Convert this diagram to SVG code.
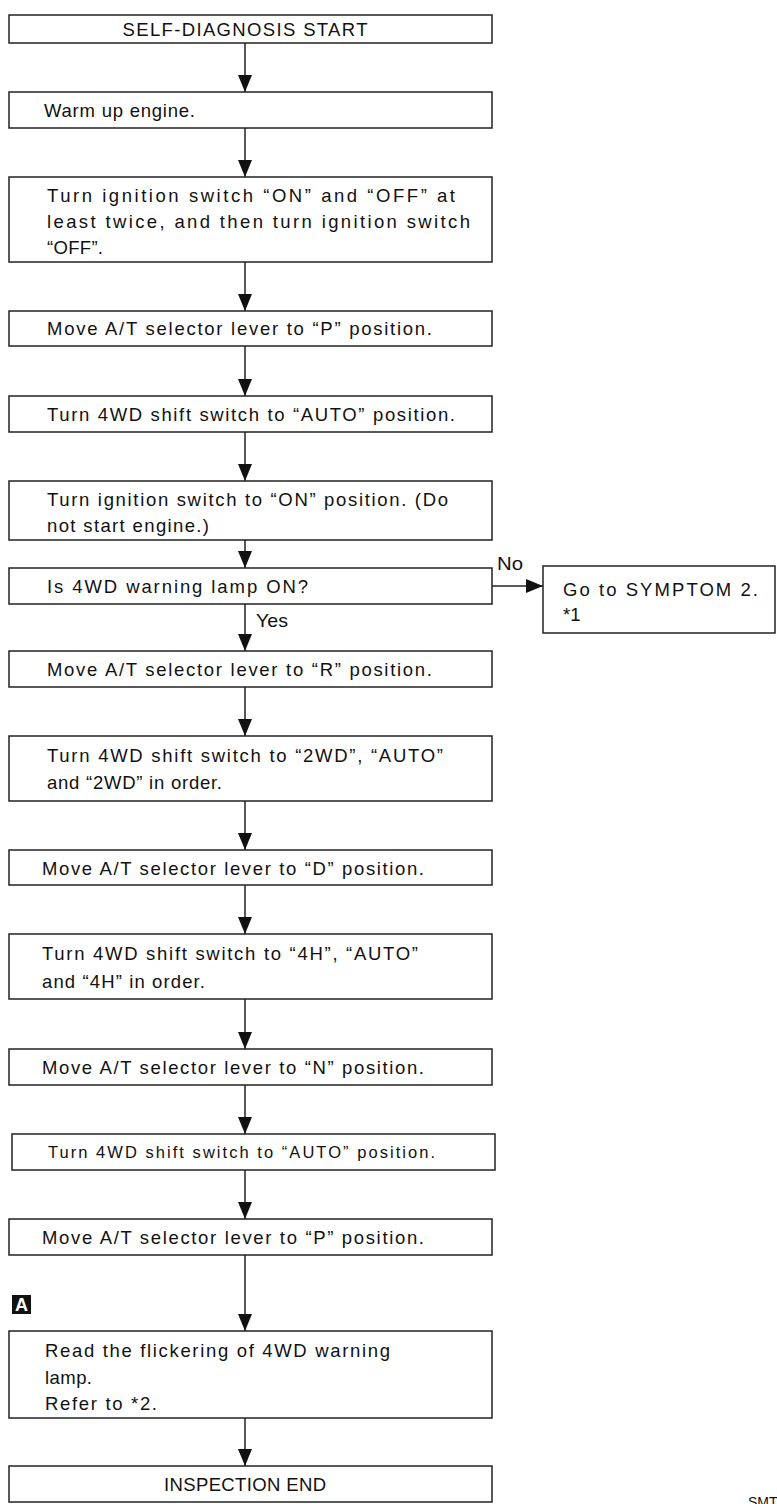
<svg xmlns="http://www.w3.org/2000/svg" width="777" height="1504" viewBox="0 0 777 1504">
<style>
.box{fill:#fff;stroke:#222;stroke-width:1.5}
.t{font-family:"Liberation Sans",Arial,sans-serif;font-size:18.5px;fill:#111}
.s{font-size:16.5px}
.c{stroke:#222;stroke-width:1.5;fill:none}
</style>
<defs>
<marker id="ah" markerUnits="userSpaceOnUse" markerWidth="17" markerHeight="14" refX="17" refY="7" orient="auto" viewBox="0 0 17 14">
<path d="M0,0 L17,7 L0,14 z" fill="#111"/>
</marker>
</defs>
<rect width="777" height="1504" fill="#fff"/>
<g id="connectors">
<line class="c" x1="245" y1="43" x2="245" y2="92" marker-end="url(#ah)"/>
<line class="c" x1="245" y1="128" x2="245" y2="177" marker-end="url(#ah)"/>
<line class="c" x1="245" y1="262" x2="245" y2="311" marker-end="url(#ah)"/>
<line class="c" x1="245" y1="346" x2="245" y2="396" marker-end="url(#ah)"/>
<line class="c" x1="245" y1="432" x2="245" y2="481" marker-end="url(#ah)"/>
<line class="c" x1="245" y1="540" x2="245" y2="568" marker-end="url(#ah)"/>
<line class="c" x1="492" y1="586" x2="543" y2="586" marker-end="url(#ah)"/>
<line class="c" x1="245" y1="604" x2="245" y2="651" marker-end="url(#ah)"/>
<line class="c" x1="245" y1="687" x2="245" y2="736" marker-end="url(#ah)"/>
<line class="c" x1="245" y1="801" x2="245" y2="850" marker-end="url(#ah)"/>
<line class="c" x1="245" y1="885" x2="245" y2="934" marker-end="url(#ah)"/>
<line class="c" x1="245" y1="999" x2="245" y2="1049" marker-end="url(#ah)"/>
<line class="c" x1="245" y1="1085" x2="245" y2="1134" marker-end="url(#ah)"/>
<line class="c" x1="245" y1="1170" x2="245" y2="1219" marker-end="url(#ah)"/>
<line class="c" x1="245" y1="1255" x2="245" y2="1331" marker-end="url(#ah)"/>
<line class="c" x1="245" y1="1418" x2="245" y2="1466" marker-end="url(#ah)"/>
<text class="t" x="497" y="570" textLength="26" lengthAdjust="spacingAndGlyphs">No</text>
<text class="t" x="256" y="627" textLength="32" lengthAdjust="spacingAndGlyphs">Yes</text>
</g>
<g id="n1"><rect class="box" x="9" y="15" width="483" height="28"/>
<text class="t" x="245" y="36" text-anchor="middle" textLength="245" lengthAdjust="spacing">SELF-DIAGNOSIS START</text></g>
<g id="n2"><rect class="box" x="9" y="92" width="483" height="36"/>
<text class="t" x="44" y="117" textLength="151" lengthAdjust="spacing">Warm up engine.</text></g>
<g id="n3"><rect class="box" x="9" y="177" width="483" height="85"/>
<text class="t" x="47" y="202" textLength="408" lengthAdjust="spacing">Turn ignition switch “ON” and “OFF” at</text>
<text class="t" x="47" y="228" textLength="423" lengthAdjust="spacing">least twice, and then turn ignition switch</text>
<text class="t" x="47" y="254" textLength="56" lengthAdjust="spacing">“OFF”.</text></g>
<g id="n4"><rect class="box" x="9" y="311" width="483" height="35"/>
<text class="t" x="47" y="335" textLength="385" lengthAdjust="spacing">Move A/T selector lever to “P” position.</text></g>
<g id="n5"><rect class="box" x="9" y="396" width="483" height="36"/>
<text class="t" x="47" y="421" textLength="408" lengthAdjust="spacing">Turn 4WD shift switch to “AUTO” position.</text></g>
<g id="n6"><rect class="box" x="9" y="481" width="483" height="59"/>
<text class="t" x="47" y="506" textLength="401" lengthAdjust="spacing">Turn ignition switch to “ON” position. (Do</text>
<text class="t" x="47" y="532" textLength="162" lengthAdjust="spacing">not start engine.)</text></g>
<g id="n7"><rect class="box" x="9" y="568" width="483" height="36"/>
<text class="t" x="47" y="593" textLength="261" lengthAdjust="spacing">Is 4WD warning lamp ON?</text></g>
<g id="n7b"><rect class="box" x="543" y="566" width="232" height="67"/>
<text class="t" x="563" y="596" textLength="195" lengthAdjust="spacing">Go to SYMPTOM 2.</text>
<text class="t" x="563" y="621">*1</text></g>
<g id="n8"><rect class="box" x="9" y="651" width="483" height="36"/>
<text class="t" x="47" y="676" textLength="385" lengthAdjust="spacing">Move A/T selector lever to “R” position.</text></g>
<g id="n9"><rect class="box" x="9" y="736" width="483" height="65"/>
<text class="t" x="47" y="762" textLength="396" lengthAdjust="spacing">Turn 4WD shift switch to “2WD”, “AUTO”</text>
<text class="t" x="47" y="789" textLength="175" lengthAdjust="spacing">and “2WD” in order.</text></g>
<g id="n10"><rect class="box" x="9" y="850" width="483" height="35"/>
<text class="t" x="42" y="875" textLength="382" lengthAdjust="spacing">Move A/T selector lever to “D” position.</text></g>
<g id="n11"><rect class="box" x="9" y="934" width="483" height="65"/>
<text class="t" x="42" y="960" textLength="376" lengthAdjust="spacing">Turn 4WD shift switch to “4H”, “AUTO”</text>
<text class="t" x="42" y="988" textLength="163" lengthAdjust="spacing">and “4H” in order.</text></g>
<g id="n12"><rect class="box" x="9" y="1049" width="483" height="36"/>
<text class="t" x="42" y="1074" textLength="382" lengthAdjust="spacing">Move A/T selector lever to “N” position.</text></g>
<g id="n13"><rect class="box" x="12" y="1134" width="483" height="36"/>
<text class="t s" x="48" y="1158" textLength="387" lengthAdjust="spacing">Turn 4WD shift switch to “AUTO” position.</text></g>
<g id="n14"><rect class="box" x="9" y="1219" width="483" height="36"/>
<text class="t" x="42" y="1244" textLength="382" lengthAdjust="spacing">Move A/T selector lever to “P” position.</text></g>
<g id="markA"><rect x="12" y="1295" width="19" height="19" fill="#111"/>
<text x="21.5" y="1311" text-anchor="middle" style="font-family:'Liberation Sans',Arial,sans-serif;font-size:18px;font-weight:bold;fill:#fff">A</text></g>
<g id="n15"><rect class="box" x="9" y="1331" width="483" height="87"/>
<text class="t" x="45" y="1357" textLength="345" lengthAdjust="spacing">Read the flickering of 4WD warning</text>
<text class="t" x="45" y="1384" textLength="47" lengthAdjust="spacing">lamp.</text>
<text class="t" x="45" y="1410" textLength="112" lengthAdjust="spacing">Refer to *2.</text></g>
<g id="n16"><rect class="box" x="9" y="1466" width="483" height="36"/>
<text class="t" x="245" y="1491" text-anchor="middle" textLength="162" lengthAdjust="spacing">INSPECTION END</text></g>
<text class="t" x="748" y="1507" style="font-size:14px">SMT</text>
</svg>
